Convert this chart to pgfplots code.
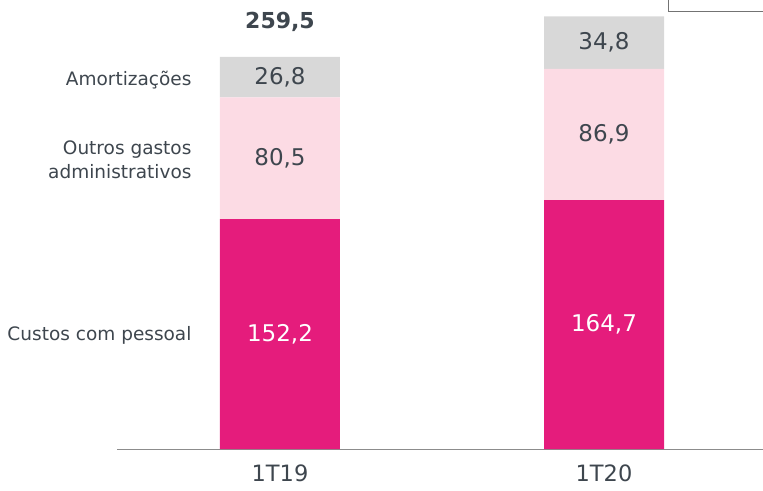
\documentclass[border=0pt]{standalone}
\usepackage{pgfplots}
\pgfplotsset{compat=1.18}
\usepackage{fontspec}
\setmainfont{DejaVu Sans}
\definecolor{pessoal}{RGB}{229,28,124}
\definecolor{outros}{RGB}{252,219,228}
\definecolor{amort}{RGB}{216,216,216}
\definecolor{txt}{RGB}{62,70,78}
\pgfplotsset{frame/.style={
  at={(117pt,41pt)}, anchor=south west,
  scale only axis, width=646pt, height=449pt,
  xmin=-0.503, xmax=1.4907, ymin=0, ymax=297.2, clip=false}}
\begin{document}
\begin{tikzpicture}[x=1pt,y=1pt]
\useasboundingbox (0,0) rectangle (763,490);
\begin{axis}[
  frame,
  ybar stacked, bar width=120pt,
  axis x line*=bottom, axis y line=none,
  x axis line style={draw=black!45, line width=1pt},
  xtick={0,1}, xticklabels={1T19,1T20}, major tick length=0pt,
  xticklabel style={font=\fontsize{22.5}{26}\selectfont, text=txt, yshift=-15pt, inner sep=1pt},
  ytick=\empty,
]
\addplot[fill=pessoal, draw=none] coordinates {(0,152.2) (1,164.7)};
\addplot[fill=outros, draw=none] coordinates {(0,80.5) (1,86.9)};
\addplot[fill=amort, draw=none] coordinates {(0,26.8) (1,34.8)};
\end{axis}
% value labels at the middle of each segment
\begin{axis}[
  frame, axis lines=none, xtick=\empty, ytick=\empty,
  point meta=explicit symbolic,
  nodes near coords,
  every node near coord/.append style={anchor=center, font=\fontsize{23}{27}\selectfont},
]
\addplot[only marks, mark=none, every node near coord/.append style={text=white}]
  coordinates {(0,76.1) [152,2] (1,82.35) [164,7]};
\addplot[only marks, mark=none, every node near coord/.append style={text=txt}]
  coordinates {(0,192.45) [80,5] (1,208.15) [86,9] (0,246.15) [26,8] (1,269.0) [34,8]};
\node[anchor=center, text=txt, font=\bfseries\fontsize{22}{26}\selectfont] at (axis cs:0,282.6) {259,5};
\begin{scope}[every node/.style={anchor=east, align=right, text=txt, font=\fontsize{18.5}{24}\selectfont}]
\node at (axis cs:-0.2623,244.2) {Amortizações};
\node at (axis cs:-0.2623,191.3) {Outros gastos\\administrativos};
\node at (axis cs:-0.2623,75.5) {Custos com pessoal};
\end{scope}
\end{axis}
\draw[black!55, line width=1pt] (668,478) rectangle (800,520);
\end{tikzpicture}
\end{document}
